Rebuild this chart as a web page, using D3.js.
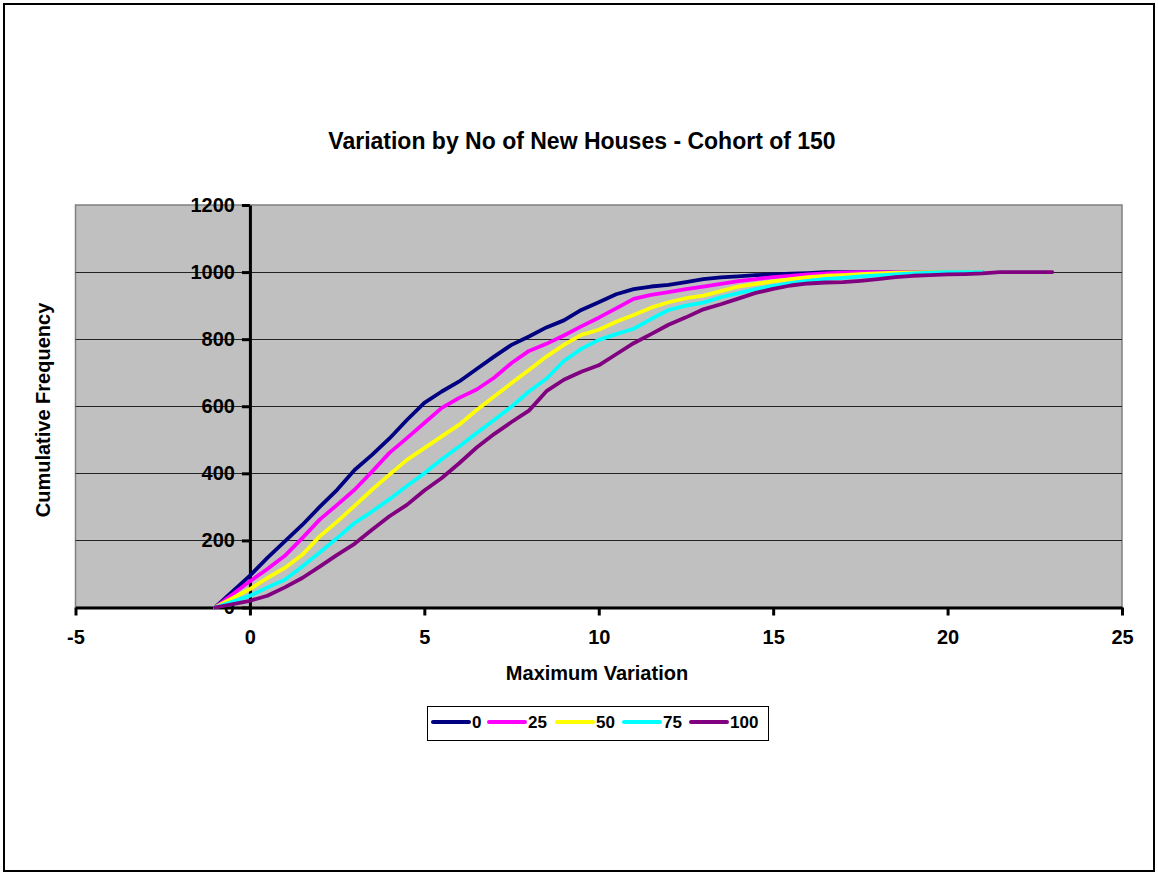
<!DOCTYPE html>
<html>
<head>
<meta charset="utf-8">
<script src="https://cdn.jsdelivr.net/npm/d3@7"></script>
<style>
  body { margin: 0; background: #fff; }
  svg { display: block; font-family: Arial, "Liberation Sans", sans-serif; font-weight: bold; }
</style>
</head>
<body>
<div id="chart-area"></div>
<script>
// cumulative frequency vs maximum variation, one series per no of new houses
var xs = [-1, 0, 0.5, 1, 1.5, 2, 2.5, 3, 3.5, 4, 4.5, 5, 5.5, 6, 6.5, 7, 7.5, 8, 8.5, 9, 9.5, 10,
  10.5, 11, 11.5, 12, 12.5, 13, 13.5, 14, 14.5, 15, 15.5, 16, 16.5, 17, 17.5, 18, 18.5, 19, 19.5,
  20, 20.5, 21, 21.5, 22, 22.5, 23];

var s0 = [0, 95, 148, 197, 246, 300, 351, 410, 455, 504, 559, 610, 644, 674, 711, 748, 783, 808, 835, 856, 887, 910,
  934, 949, 957, 962, 970, 979, 984, 987, 991, 993, 995, 997, 1000, 1000, 1000, 1000, 1000, 1000, 1000, 1000, 1000, 1000];
var s25 = [0, 78, 115, 154, 207, 262, 306, 351, 405, 461, 505, 550, 595, 625, 650, 685, 729, 765, 786, 811, 838, 864,
  892, 920, 932, 940, 949, 957, 965, 973, 979, 985, 989, 993, 996, 998, 1000, 1000, 1000, 1000, 1000, 1000, 1000, 1000];
var s50 = [0, 55, 88, 118, 157, 212, 256, 303, 351, 396, 440, 475, 510, 545, 589, 629, 669, 708, 748, 783, 813, 828,
  852, 872, 894, 910, 922, 930, 943, 957, 965, 972, 979, 985, 989, 991, 994, 996, 998, 999, 1000, 1000, 1000, 1000];
var s75 = [0, 35, 60, 83, 122, 164, 207, 252, 286, 323, 362, 400, 442, 480, 520, 559, 599, 644, 682, 735, 771, 798,
  815, 831, 860, 887, 900, 909, 925, 937, 949, 959, 967, 974, 980, 983, 987, 990, 993, 996, 998, 1000, 1000, 1000];
var s100 = [0, 20, 35, 60, 88, 122, 157, 190, 232, 272, 306, 349, 386, 430, 477, 517, 553, 587, 645, 679, 703, 722,
  755, 788, 815, 843, 865, 889, 904, 921, 938, 950, 960, 966, 969, 970, 974, 979, 985, 989, 991, 993, 994, 996,
  1000, 1000, 1000, 1000];

var seriesNames = ['0', '25', '50', '75', '100'];
var seriesValues = [s0, s25, s50, s75, s100];
var seriesColors = ['#000080', '#ff00ff', '#ffff00', '#00ffff', '#800080'];

var xTicks = [-5, 0, 5, 10, 15, 20, 25];
var yTicks = [200, 400, 600, 800, 1000, 1200];

var W = 1158, H = 874;
var plot = { left: 75.5, right: 1122, top: 205, bottom: 607.5 };
var fontFam = 'Arial, "Liberation Sans", sans-serif';

var svg = d3.select('#chart-area').append('svg')
  .attr('width', W)
  .attr('height', H);

// outer frame
svg.append('rect')
  .attr('x', 4).attr('y', 4)
  .attr('width', W - 8).attr('height', H - 7)
  .attr('fill', '#fff')
  .attr('stroke', '#000')
  .attr('stroke-width', 2);

var x = d3.scaleLinear().domain([-5, 25]).range([plot.left, plot.right]);
var y = d3.scaleLinear().domain([0, 1200]).range([plot.bottom, plot.top]);

svg.append('rect')
  .attr('x', plot.left).attr('y', plot.top)
  .attr('width', plot.right - plot.left).attr('height', plot.bottom - plot.top)
  .attr('fill', '#c0c0c0')
  .attr('stroke', '#808080')
  .attr('stroke-width', 1.5);

// gridlines
svg.append('g').selectAll('line')
  .data(yTicks.slice(0, 5))
  .enter().append('line')
    .attr('x1', plot.left).attr('x2', plot.right)
    .attr('y1', d => Math.round(y(d)) + 0.5).attr('y2', d => Math.round(y(d)) + 0.5)
    .attr('stroke', '#222')
    .attr('stroke-width', 1);

// y axis at x = 0
var yAxis = svg.append('g')
  .attr('transform', `translate(${x(0)}, 0)`)
  .call(d3.axisLeft(y).tickValues([0].concat(yTicks)).tickFormat(d3.format('d'))
    .tickSize(8).tickSizeOuter(0).tickPadding(7));
yAxis.select('.domain').attr('stroke', '#000').attr('stroke-width', 3);
yAxis.selectAll('.tick line').attr('stroke', '#000').attr('stroke-width', 3);
yAxis.selectAll('.tick text')
  .attr('font-size', '20px').attr('font-weight', 'bold').attr('fill', '#000')
  .attr('font-family', fontFam);

// x axis at y = 0
var xAxis = svg.append('g')
  .attr('transform', `translate(0, ${y(0)})`)
  .call(d3.axisBottom(x).tickValues(xTicks).tickFormat(d => String(d))
    .tickSize(8).tickSizeOuter(0).tickPadding(14));
xAxis.select('.domain').attr('stroke', '#000').attr('stroke-width', 3);
xAxis.selectAll('.tick line').attr('stroke', '#000').attr('stroke-width', 3);
xAxis.selectAll('.tick text')
  .attr('font-size', '20px').attr('font-weight', 'bold').attr('fill', '#000')
  .attr('font-family', fontFam);

var line = d3.line()
  .x((d, i) => x(xs[i]))
  .y(d => y(d));

seriesValues.forEach((vals, i) => {
  svg.append('path')
    .datum(vals)
    .attr('fill', 'none')
    .attr('stroke', seriesColors[i])
    .attr('stroke-width', 3.8)
    .attr('stroke-linejoin', 'round')
    .attr('stroke-linecap', 'round')
    .attr('d', line);
});

svg.append('text')
  .attr('x', 582).attr('y', 149)
  .attr('text-anchor', 'middle')
  .attr('font-size', '23px')
  .text('Variation by No of New Houses - Cohort of 150');

svg.append('text')
  .attr('x', 597).attr('y', 680)
  .attr('text-anchor', 'middle')
  .attr('font-size', '20px')
  .text('Maximum Variation');

svg.append('text')
  .attr('transform', 'translate(50, 410) rotate(-90)')
  .attr('text-anchor', 'middle')
  .attr('font-size', '20px')
  .text('Cumulative Frequency');

// legend
var legend = svg.append('g');
legend.append('rect')
  .attr('x', 427.5).attr('y', 706.5)
  .attr('width', 341).attr('height', 34)
  .attr('fill', '#fff')
  .attr('stroke', '#000')
  .attr('stroke-width', 1);

var legendX = [433, 489, 557, 624, 691];
seriesNames.forEach((name, i) => {
  var row = legend.append('g').attr('transform', `translate(${legendX[i]}, 722)`);
  row.append('line')
    .attr('x1', 0).attr('x2', 36)
    .attr('stroke', seriesColors[i])
    .attr('stroke-width', 4)
    .attr('stroke-linecap', 'round');
  row.append('text')
    .attr('x', 39).attr('y', 6)
    .attr('font-size', '17px')
    .text(name);
});
</script>
</body>
</html>
